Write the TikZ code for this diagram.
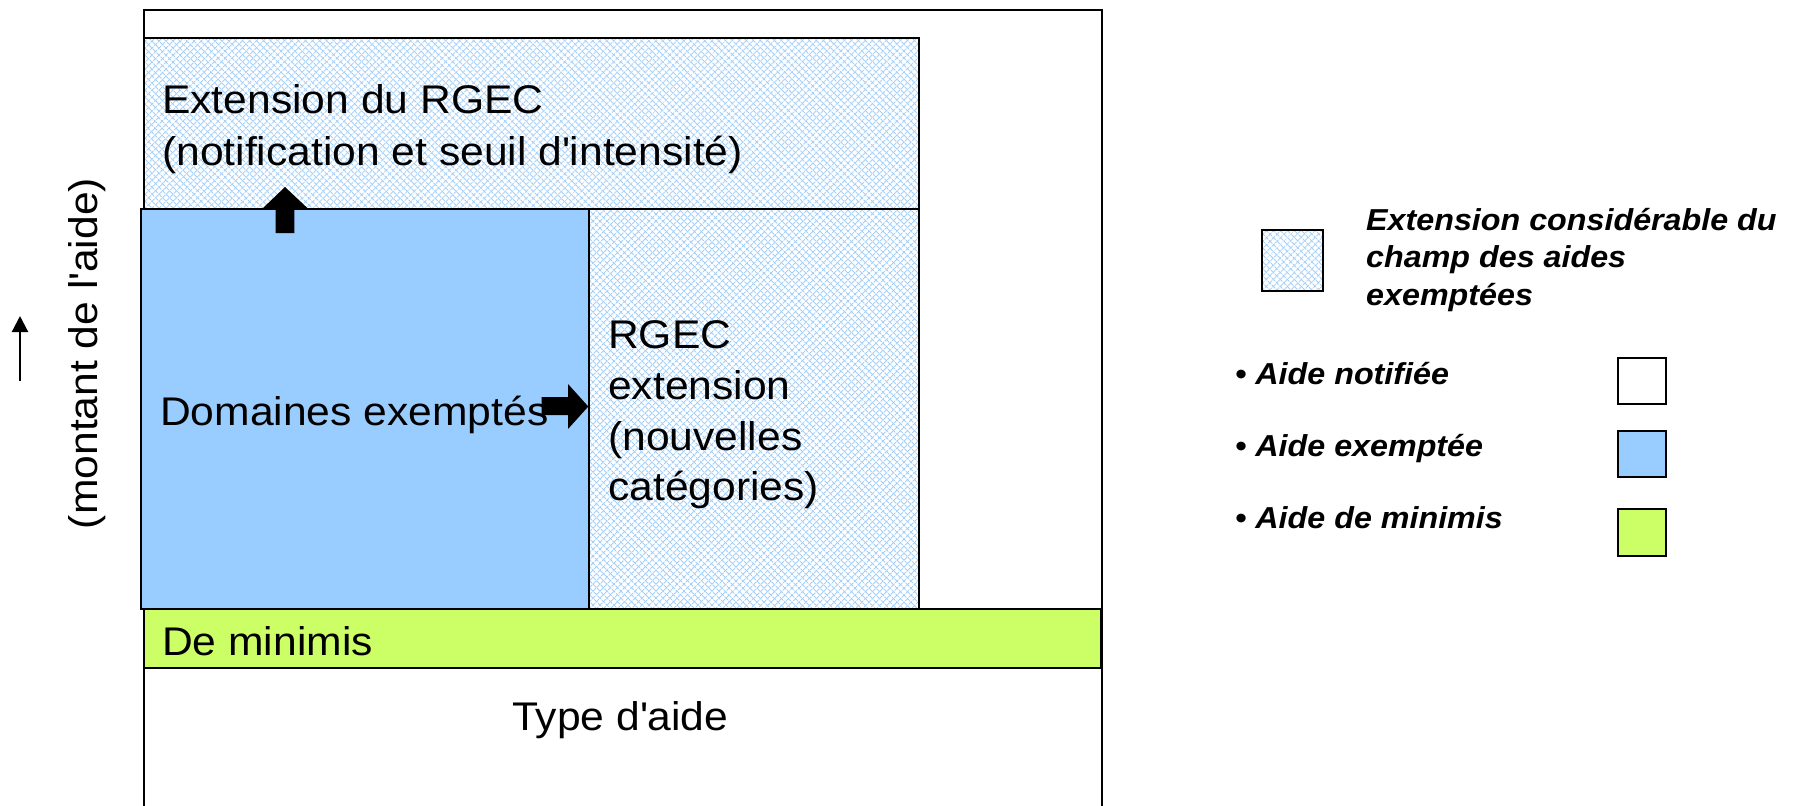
\documentclass[tikz,border=0pt]{standalone}
\usepackage{fontspec}
\setmainfont{Liberation Sans}[FakeStretch=1.065]
\usetikzlibrary{patterns.meta,arrows.meta}

\definecolor{exblue}{RGB}{153,204,255}
\definecolor{mingreen}{RGB}{204,255,102}
\definecolor{hatchblue}{RGB}{165,208,250}

\newcommand{\apos}{\textquotesingle}

\tikzset{
  box/.style={draw=black, line width=1.5bp},
  hatched/.style={
    preaction={fill=white},
    preaction={pattern={Lines[angle=45,distance=5.2bp,line width=1.2bp]}, pattern color=hatchblue},
    preaction={pattern={Lines[angle=-45,distance=5.2bp,line width=1.2bp]}, pattern color=hatchblue},
    box},
  lbl/.style={inner sep=0pt, font=\fontsize{40.15}{48}\selectfont},
  leg/.style={inner sep=0pt, font=\fontsize{30.4}{37}\selectfont\bfseries\itshape},
  blockarrow/.style={fill=black},
}

\begin{document}
\begin{tikzpicture}[x=1bp,y=-1bp]
\useasboundingbox (0,0) rectangle (1794,806);

% outer frame (open at the bottom of the page)
\draw[box] (144,10) rectangle (1102,840);

% regions
\path[hatched] (144,38) rectangle (919,209);
\path[hatched] (589,209) rectangle (919,609);
\draw[box, fill=exblue] (141,209) rectangle (589,609);
\draw[box, fill=mingreen] (144,609) rectangle (1101,668);

% block arrows
\coordinate (upTip) at (285,187);
\fill[blockarrow] (upTip) -- (307.7,208.3) -- (294.3,208.3) -- (294.3,233)
  -- (275.7,233) -- (275.7,208.3) -- (262.7,208.3) -- cycle;
\coordinate (rightTip) at (588.3,406.5);
\fill[blockarrow] (rightTip) -- (568,429) -- (568,415) -- (541.7,415)
  -- (541.7,397) -- (568,397) -- (568,384) -- cycle;

% labels inside the chart
\node[lbl, anchor=base west] (extA) at (162,113) {Extension du RGEC};
\node[lbl, anchor=base west] (extB) at (162,165) {(notification et seuil d\apos intensité)};
\node[lbl, anchor=base west] (dom) at (160,425) {Domaines exemptés};
\node[lbl, anchor=base west] (rgA) at (608,348.3) {RGEC};
\node[lbl, anchor=base west] (rgB) at (608,399.3) {extension};
\node[lbl, anchor=base west] (rgC) at (608,450) {(nouvelles};
\node[lbl, anchor=base west] (rgD) at (608,500.5) {catégories)};
\node[lbl, anchor=base west] (demin) at (162,655) {De minimis};
\node[lbl, anchor=base west] (typ) at (512,730) {Type d\apos aide};

% vertical axis
\node[lbl, rotate=90, anchor=base] (mont) at (97,353.5) {(montant de l\apos aide)};
\coordinate (axTail) at (20,381);
\coordinate (axTip) at (20,316);
\draw[line width=2.2bp, -{Triangle[length=16bp,width=16bp]}] (axTail) -- (axTip);

% legend
\path[hatched] (1262,230) rectangle (1323,291);
\node[leg, anchor=base west] (legA) at (1366,230) {Extension considérable du};
\node[leg, anchor=base west] (legB) at (1366,267) {champ des aides};
\node[leg, anchor=base west] (legC) at (1366,305) {exemptées};

\node[leg, anchor=base west] (legN) at (1235,384.3) {• Aide notifiée};
\node[leg, anchor=base west] (legE) at (1235,456.7) {• Aide exemptée};
\node[leg, anchor=base west] (legM) at (1235,528.3) {• Aide de minimis};
\draw[box, fill=white] (1618,358) rectangle (1666,404);
\draw[box, fill=exblue] (1618,431) rectangle (1666,477);
\draw[box, fill=mingreen] (1618,509) rectangle (1666,556);
\end{tikzpicture}
\end{document}
